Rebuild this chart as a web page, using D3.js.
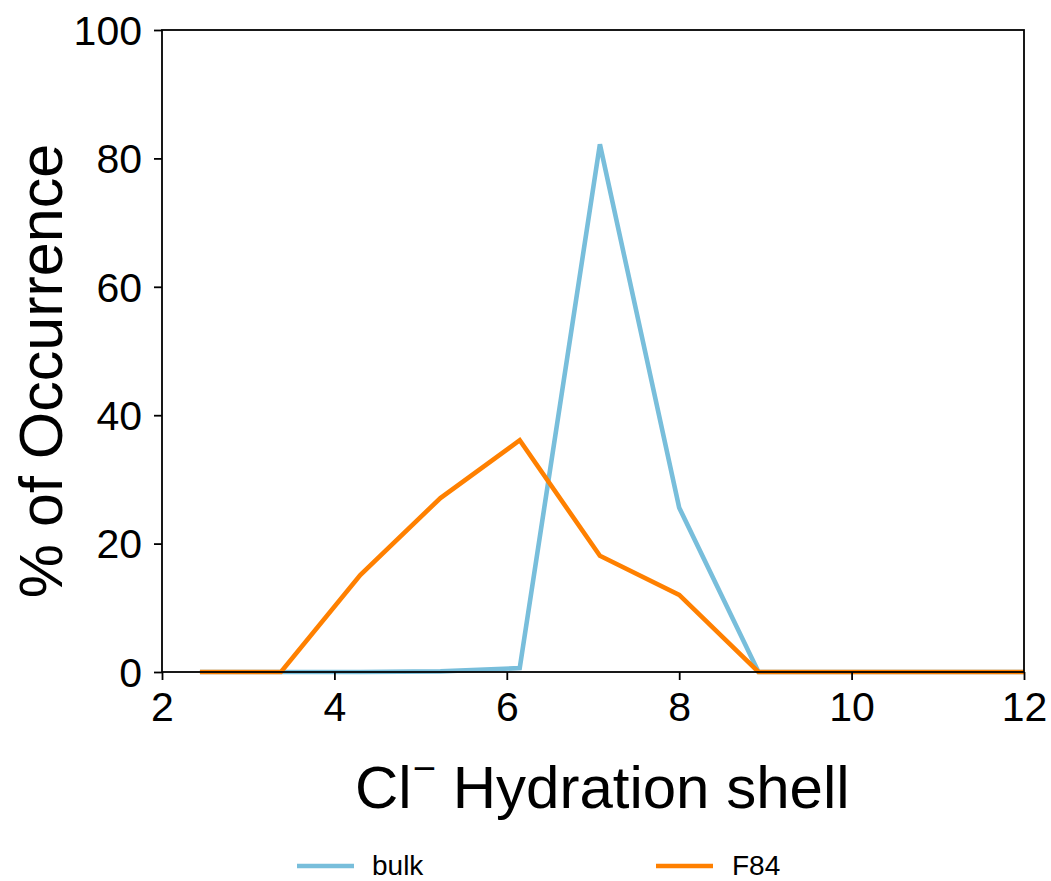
<!DOCTYPE html>
<html><head><meta charset="utf-8">
<script src="https://cdn.jsdelivr.net/npm/d3@7"></script>
<style>body{margin:0;background:#fff}svg{font-family:"Liberation Sans",Arial,sans-serif}</style>
</head><body>
<script>
const shellX = [2.44, 3.38, 4.30, 5.23, 6.15, 7.08, 8.00, 8.92, 9.85, 10.77, 11.69, 12.61];
const bulk   = [0, 0, 0, 0.1, 0.6, 82.2, 25.6, 0, 0, 0, 0, 0];
const f84    = [0, 0, 15.1, 27.1, 36.1, 18.1, 12.0, 0, 0, 0, 0, 0];
const xTicks = [2, 4, 6, 8, 10, 12];
const yTicks = [0, 20, 40, 60, 80, 100];
const seriesNames = ["bulk", "F84"];
const colors = ["#78bedb", "#ff8000"];

const W = 1051, H = 881;
const m = {l:162, r:1024, t:30, b:672};
const svg = d3.select("body").append("svg").attr("width", W).attr("height", H);
const x = d3.scaleLinear().domain([2, 12]).range([m.l, m.r]);
const y = d3.scaleLinear().domain([0, 100]).range([m.b, m.t]);

svg.append("defs").append("clipPath").attr("id","clip")
  .append("rect").attr("x", m.l).attr("y", m.t - 5).attr("width", m.r - m.l).attr("height", m.b - m.t + 10);

const line = d3.line().x((d,i)=>x(shellX[i])).y(d=>y(d));
const data = [bulk, f84];
data.forEach((s,k)=>{
  svg.append("path").attr("d", line(s)).attr("fill","none")
    .attr("stroke", colors[k]).attr("stroke-width", 4.6).attr("clip-path","url(#clip)")
    .attr("stroke-linejoin","miter");
});

// frame
svg.append("rect").attr("x", m.l).attr("y", m.t).attr("width", m.r - m.l).attr("height", m.b - m.t)
  .attr("fill","none").attr("stroke","#000").attr("stroke-width",1.8);

const xa = svg.append("g").attr("transform",`translate(0,${m.b})`)
  .call(d3.axisBottom(x).tickValues(xTicks).tickSize(8).tickFormat(d3.format("d")));
const ya = svg.append("g").attr("transform",`translate(${m.l},0)`)
  .call(d3.axisLeft(y).tickValues(yTicks).tickSize(8).tickFormat(d3.format("d")));
[xa, ya].forEach(a=>{
  a.select(".domain").remove();
  a.selectAll("line").attr("stroke","#000").attr("stroke-width",1.8);
  a.selectAll("text").attr("font-size",41).attr("fill","#000").attr("font-family","Liberation Sans, Arial, sans-serif");
});
xa.selectAll("text").attr("y", 49).attr("dy","0");
ya.selectAll("text").attr("x", -20).attr("dy","0.35em");

// axis titles
const xt = svg.append("text").attr("x", 355).attr("y", 808).attr("text-anchor","start")
  .attr("font-size",60).attr("fill","#000");
xt.append("tspan").text("Cl");
xt.append("tspan").text("\u2212").attr("font-size",40).attr("dy",-26).attr("dx",1);
xt.append("tspan").text(" Hydration shell").attr("dy",26);

svg.append("text").attr("transform",`translate(62,371) rotate(-90)`)
  .attr("text-anchor","middle").attr("font-size",61).attr("fill","#000").text("% of Occurrence");

// legend
const leg = [{x1:297, tx:372}, {x1:656, tx:732}];
seriesNames.forEach((n,k)=>{
  svg.append("line").attr("x1",leg[k].x1).attr("x2",leg[k].x1+57).attr("y1",866).attr("y2",866)
    .attr("stroke",colors[k]).attr("stroke-width",4.6);
  svg.append("text").attr("x",leg[k].tx).attr("y",875).attr("font-size",28).attr("fill","#000").text(n);
});
</script>
</body></html>
